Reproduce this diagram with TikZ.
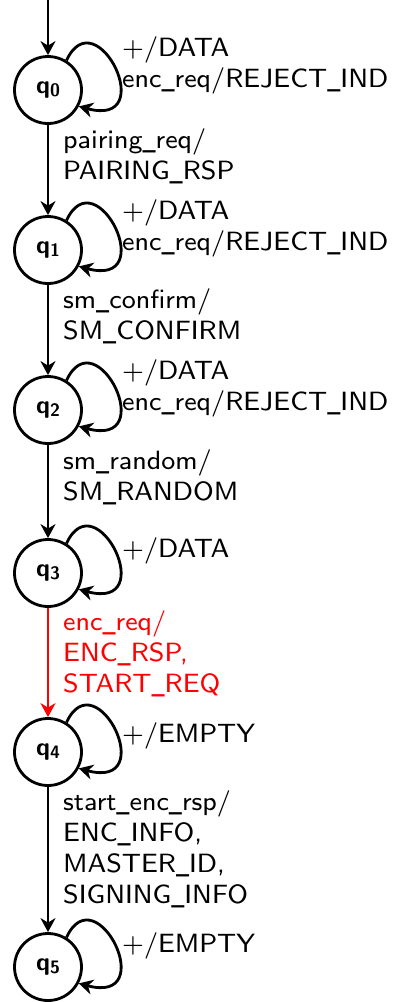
\documentclass[tikz,border=0pt]{standalone}
\usepackage{graphicx}
\usetikzlibrary{arrows.meta}

% fonts at small design sizes, scaled up
\font\lblfont="[lmsans8-regular.otf]" at 26.4pt
\font\statefont="[lmsans10-bold.otf]" at 25pt
\font\subfont="[lmsans10-bold.otf]" at 18pt
\newcommand{\qsub}[1]{q\raisebox{-3.5pt}{\subfont #1}}
\newcommand{\us}{\scalebox{0.7}[1]{\_}}

\tikzset{
  state/.style={draw, circle, line width=2.8pt, minimum size=67pt, inner sep=0pt,
    font=\statefont},
  trans/.style={line width=2.8pt, -{Stealth[length=14pt,width=15pt,inset=4.5pt]}},
  lbl/.style={anchor=base west, inner sep=0pt, align=left,
    font={\lblfont\baselineskip=31pt}},
}

\begin{document}
\begin{tikzpicture}[x=1pt,y=1pt,yscale=-1,xscale=1]
\useasboundingbox (0,0) rectangle (398,1002);

% States
\node [state] (q0) at (48,90) {\qsub{0}};
\node [state] (q1) at (48,250) {\qsub{1}};
\node [state] (q2) at (48,410) {\qsub{2}};
\node [state] (q3) at (48,573) {\qsub{3}};
\node [state] (q4) at (48,752) {\qsub{4}};
\node [state] (q5) at (48,967) {\qsub{5}};
\coordinate (init) at (48,0);

% Transitions
\draw [trans] (init) -- (q0);
\draw [trans] (q0) -- (q1);
\draw [trans] (q1) -- (q2);
\draw [trans] (q2) -- (q3);
\draw [trans,red] (q3) -- (q4);
\draw [trans] (q4) -- (q5);

% Loops
\foreach \s in {q0,q1,q2,q3,q4,q5}
  \draw [trans] (\s.58) .. controls +(-65:70) and +(15:85) .. (\s.-28);

% Loop labels
\node [lbl] (l0) at (122,87) {+/DATA\\enc\us req/REJECT\us IND};
\node [lbl] (l1) at (122,250) {+/DATA\\enc\us req/REJECT\us IND};
\node [lbl] (l2) at (122,410) {+/DATA\\enc\us req/REJECT\us IND};
\node [lbl] (l3) at (122,557) {+/DATA};
\node [lbl] (l4) at (122,742) {+/EMPTY};
\node [lbl] (l5) at (122,952) {+/EMPTY};

% Edge labels
\node [lbl] (e01) at (63,179) {pairing\us req/\\PAIRING\us RSP};
\node [lbl] (e12) at (63,339) {sm\us confirm/\\SM\us CONFIRM};
\node [lbl] (e23) at (63,500) {sm\us random/\\SM\us RANDOM};
\node [lbl,red] (e34) at (63,692) {enc\us req/\\ENC\us RSP,\\START\us REQ};
\node [lbl] (e45) at (63,903) {start\us enc\us rsp/\\ENC\us INFO,\\MASTER\us ID,\\SIGNING\us INFO};

\end{tikzpicture}
\end{document}
